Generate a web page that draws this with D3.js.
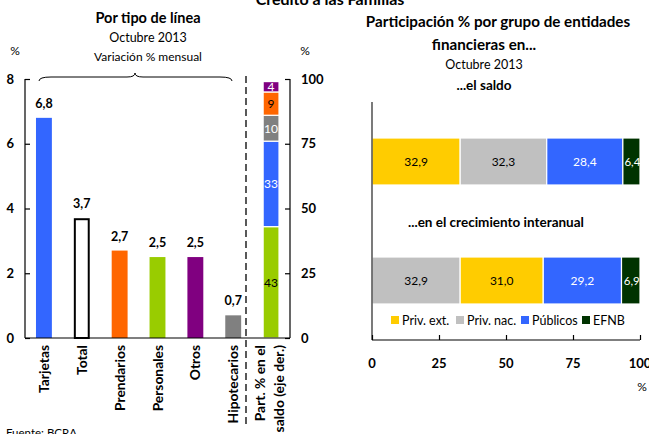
<!DOCTYPE html>
<html><head><meta charset="utf-8">
<script src="https://cdn.jsdelivr.net/npm/d3@7"></script>
<style>
html,body{margin:0;padding:0;background:#fff;}
svg{display:block;font-family:Lato,"Open Sans",sans-serif;}
</style></head>
<body>
<svg id="c" width="649" height="434"></svg>
<script>
// ---- Data ----
const categories = ["Tarjetas","Total","Prendarios","Personales","Otros","Hipotecarios"];
const monthlyVar = [6.8, 3.7, 2.7, 2.5, 2.5, 0.7];
const catColors = ["#3366FF","#FFFFFF","#FF6600","#99CC00","#800080","#808080"];
const leftTicks = [0, 2, 4, 6, 8];
const rightTicks = [0, 25, 50, 75, 100];
const shareNames = ["Personales","Tarjetas","Hipotecarios","Prendarios","Otros"];
const shareValues = [43, 33, 10, 9, 4];
const shareColors = ["#99CC00","#3366FF","#808080","#FF6600","#800080"];
const shareTextColors = ["#000","#fff","#fff","#000","#fff"];

const groups = ["Priv. ext.","Priv. nac.","Públicos","EFNB"];
const groupColors = ["#FFCC00","#C0C0C0","#3366FF","#003300"];
const groupTextColors = ["#000","#000","#fff","#fff"];
const saldoOrder = ["Priv. ext.","Priv. nac.","Públicos","EFNB"];
const saldoValues = [32.9, 32.3, 28.4, 6.4];
const crecOrder = ["Priv. nac.","Priv. ext.","Públicos","EFNB"];
const crecValues = [32.9, 31.0, 29.2, 6.9];
const xTicks = [0, 25, 50, 75, 100];

const fmt = v => d3.format(".1f")(v).replace(".", ",");
const svg = d3.select("#c");

// ---- Main title ----
svg.append("text").attr("x", 330).attr("y", 5).attr("text-anchor","middle")
  .attr("font-weight","bold").attr("font-size",16).text("Crédito a las Familias");

// ---- Left chart ----
const allCats = categories.concat(["Part"]);
const x = d3.scaleBand().domain(allCats).range([25, 290]).paddingInner(0.58).paddingOuter(0.29);
const y = d3.scaleLinear().domain([0, 8]).range([338, 79]);
const y2 = d3.scaleLinear().domain([0, 100]).range([338, 79]);

svg.append("text").attr("x",148).attr("y",23).attr("text-anchor","middle")
  .attr("font-weight","bold").attr("font-size",14.5).text("Por tipo de línea");
svg.append("text").attr("x",148).attr("y",42).attr("text-anchor","middle")
  .attr("font-size",12.5).text("Octubre 2013");
svg.append("text").attr("x",148).attr("y",61).attr("text-anchor","middle")
  .attr("font-size",12).text("Variación % mensual");
svg.append("text").attr("x",15).attr("y",55).attr("text-anchor","middle").attr("font-size",12).text("%");
svg.append("text").attr("x",305).attr("y",55).attr("text-anchor","middle").attr("font-size",12).text("%");

// bars
const bars = categories.map((c,i)=>({c, v: monthlyVar[i], col: catColors[i]}));
svg.selectAll("rect.bar").data(bars).enter().append("rect")
  .attr("x", d => x(d.c) + (d.c==="Total"?1:0))
  .attr("width", d => x.bandwidth() - (d.c==="Total"?2:0))
  .attr("y", d => y(d.v) + (d.c==="Total"?1:0))
  .attr("height", d => y(0) - y(d.v) - (d.c==="Total"?1:0))
  .attr("fill", d => d.col)
  .attr("stroke", d => d.c==="Total" ? "#000" : "none")
  .attr("stroke-width", 2);
svg.selectAll("text.vl").data(bars).enter().append("text")
  .attr("x", d => x(d.c) + x.bandwidth()/2)
  .attr("y", d => y(d.v) - 10)
  .attr("text-anchor","middle").attr("font-weight","bold").attr("font-size",12.5)
  .text(d => fmt(d.v));

// stacked share bar
let acc = 0;
const stack = shareValues.map((v,i)=>{const s={v, y0:acc, y1:acc+v, col:shareColors[i], tc:shareTextColors[i]}; acc+=v; return s;});
svg.selectAll("rect.sh").data(stack).enter().append("rect")
  .attr("x", x("Part")).attr("width", x.bandwidth())
  .attr("y", d => y2(d.y1)).attr("height", d => y2(d.y0) - y2(d.y1))
  .attr("fill", d => d.col).attr("stroke","#fff").attr("stroke-width",1.2);
svg.selectAll("text.sh").data(stack).enter().append("text")
  .attr("x", x("Part") + x.bandwidth()/2)
  .attr("y", d => y2((d.y0+d.y1)/2) + 4.5)
  .attr("text-anchor","middle").attr("font-size",12).attr("fill", d => d.tc)
  .text(d => d.v);

// axes
const axL = svg.append("g").attr("transform","translate(25,0)")
  .call(d3.axisRight(y).tickValues(leftTicks).tickSize(5).tickFormat(""));
axL.select(".domain").remove();
svg.append("line").attr("x1",25).attr("x2",25).attr("y1",79).attr("y2",338).attr("stroke","#000").attr("stroke-width",1.2);
svg.selectAll("text.lt").data(leftTicks).enter().append("text")
  .attr("x",14).attr("y", d => y(d)+4.5).attr("text-anchor","end")
  .attr("font-weight","bold").attr("font-size",13).text(d=>d);
const axR = svg.append("g").attr("transform","translate(290,0)")
  .call(d3.axisLeft(y2).tickValues(rightTicks).tickSize(5).tickFormat(""));
axR.select(".domain").remove();
svg.append("line").attr("x1",290).attr("x2",290).attr("y1",79).attr("y2",338).attr("stroke","#000").attr("stroke-width",1.2);
svg.selectAll("text.rt").data(rightTicks).enter().append("text")
  .attr("x",301).attr("y", d => y2(d)+4.5).attr("text-anchor","start")
  .attr("font-weight","bold").attr("font-size",13).text(d=>d);
svg.append("line").attr("x1",25).attr("x2",290).attr("y1",338).attr("y2",338).attr("stroke","#000").attr("stroke-width",1.2);

// dashed separator
svg.append("line").attr("x1",246).attr("x2",246).attr("y1",76).attr("y2",424)
  .attr("stroke","#000").attr("stroke-width",1.3).attr("stroke-dasharray","7,4");

// brace
const bx0 = 39, bx1 = 232, bm = 135, by = 78;
svg.append("path")
  .attr("d", `M${bx0},${by+3} Q${bx0},${by-1} ${bx0+12},${by-1} L${bm-8},${by-1} Q${bm},${by-1} ${bm},${by-5} Q${bm},${by-1} ${bm+8},${by-1} L${bx1-12},${by-1} Q${bx1},${by-1} ${bx1},${by+3}`)
  .attr("fill","none").attr("stroke","#000").attr("stroke-width",1);

// category labels
svg.selectAll("text.cat").data(categories).enter().append("text")
  .attr("transform", d => `translate(${x(d)+x.bandwidth()/2+5},345) rotate(-90)`)
  .attr("text-anchor","end").attr("font-weight","bold").attr("font-size",13.8).text(d=>d);
const partX = x("Part") + x.bandwidth()/2;
svg.append("text").attr("transform",`translate(${partX-6},345) rotate(-90)`)
  .attr("text-anchor","end").attr("font-weight","bold").attr("font-size",13.8).text("Part. % en el");
svg.append("text").attr("transform",`translate(${partX+13},345) rotate(-90)`)
  .attr("text-anchor","end").attr("font-weight","bold").attr("font-size",13.8).text("saldo (eje der.)");

svg.append("text").attr("x",6).attr("y",437).attr("font-size",11.5).text("Fuente: BCRA");

// ---- Right chart ----
const xr = d3.scaleLinear().domain([0,100]).range([372, 640]);
svg.append("text").attr("x",498).attr("y",27).attr("text-anchor","middle")
  .attr("font-weight","bold").attr("font-size",15.2).text("Participación %  por grupo de entidades");
svg.append("text").attr("x",484).attr("y",50).attr("text-anchor","middle")
  .attr("font-weight","bold").attr("font-size",15.2).text("financieras en...");
svg.append("text").attr("x",484).attr("y",69).attr("text-anchor","middle")
  .attr("font-size",12.5).text("Octubre 2013");
svg.append("text").attr("x",484).attr("y",90).attr("text-anchor","middle")
  .attr("font-weight","bold").attr("font-size",13.5).text("...el saldo");
svg.append("text").attr("x",496).attr("y",227).attr("text-anchor","middle")
  .attr("font-weight","bold").attr("font-size",13.5).text("...en el crecimiento interanual");

function hbar(order, values, y0, h){
  let a = 0;
  const segs = order.map((g,i)=>{const gi=groups.indexOf(g); const s={g,v:values[i],x0:a,x1:a+values[i],col:groupColors[gi],tc:groupTextColors[gi]}; a+=values[i]; return s;});
  const gr = svg.append("g");
  gr.selectAll("rect").data(segs).enter().append("rect")
    .attr("x", d=>xr(d.x0)).attr("width", d=>xr(d.x1)-xr(d.x0))
    .attr("y", y0).attr("height", h).attr("fill", d=>d.col)
    .attr("stroke","#fff").attr("stroke-width",1.2);
  gr.selectAll("text").data(segs).enter().append("text")
    .attr("x", d=> (xr(d.x0)+xr(d.x1))/2 + (d.v<10?1:0)).attr("y", y0+h/2+4.5)
    .attr("text-anchor","middle").attr("font-size",d=>d.v<10?11.5:12).attr("fill", d=>d.tc)
    .text(d=>fmt(d.v));
}
hbar(saldoOrder, saldoValues, 138, 47);
hbar(crecOrder, crecValues, 257, 47);

// right axes
svg.append("line").attr("x1",372).attr("x2",372).attr("y1",102).attr("y2",340).attr("stroke","#333").attr("stroke-width",1.3);
const axB = svg.append("g").attr("transform","translate(0,340)")
  .call(d3.axisTop(xr).tickValues(xTicks).tickSize(5).tickFormat(""));
axB.select(".domain").remove();
svg.append("line").attr("x1",372).attr("x2",640).attr("y1",340).attr("y2",340).attr("stroke","#000").attr("stroke-width",1.2);
svg.selectAll("text.xt").data(xTicks).enter().append("text")
  .attr("x", d=>xr(d)).attr("y",368).attr("text-anchor","middle")
  .attr("font-weight","bold").attr("font-size",13).text(d=>d);
svg.append("text").attr("x",642).attr("y",391).attr("text-anchor","middle").attr("font-size",12).text("%");

// legend
const legX = [391, 456, 521, 582];
const leg = svg.selectAll("g.leg").data(groups).enter().append("g")
  .attr("transform",(d,i)=>`translate(${legX[i]},320)`);
leg.append("rect").attr("x",0).attr("y",-4).attr("width",8).attr("height",8).attr("fill",(d,i)=>groupColors[i]);
leg.append("text").attr("x",11).attr("y",4.5).attr("font-size",12.5).text(d=>d);

svg.selectAll(".tick line").attr("stroke","#000").attr("stroke-width",1.2);
</script>
</body></html>
